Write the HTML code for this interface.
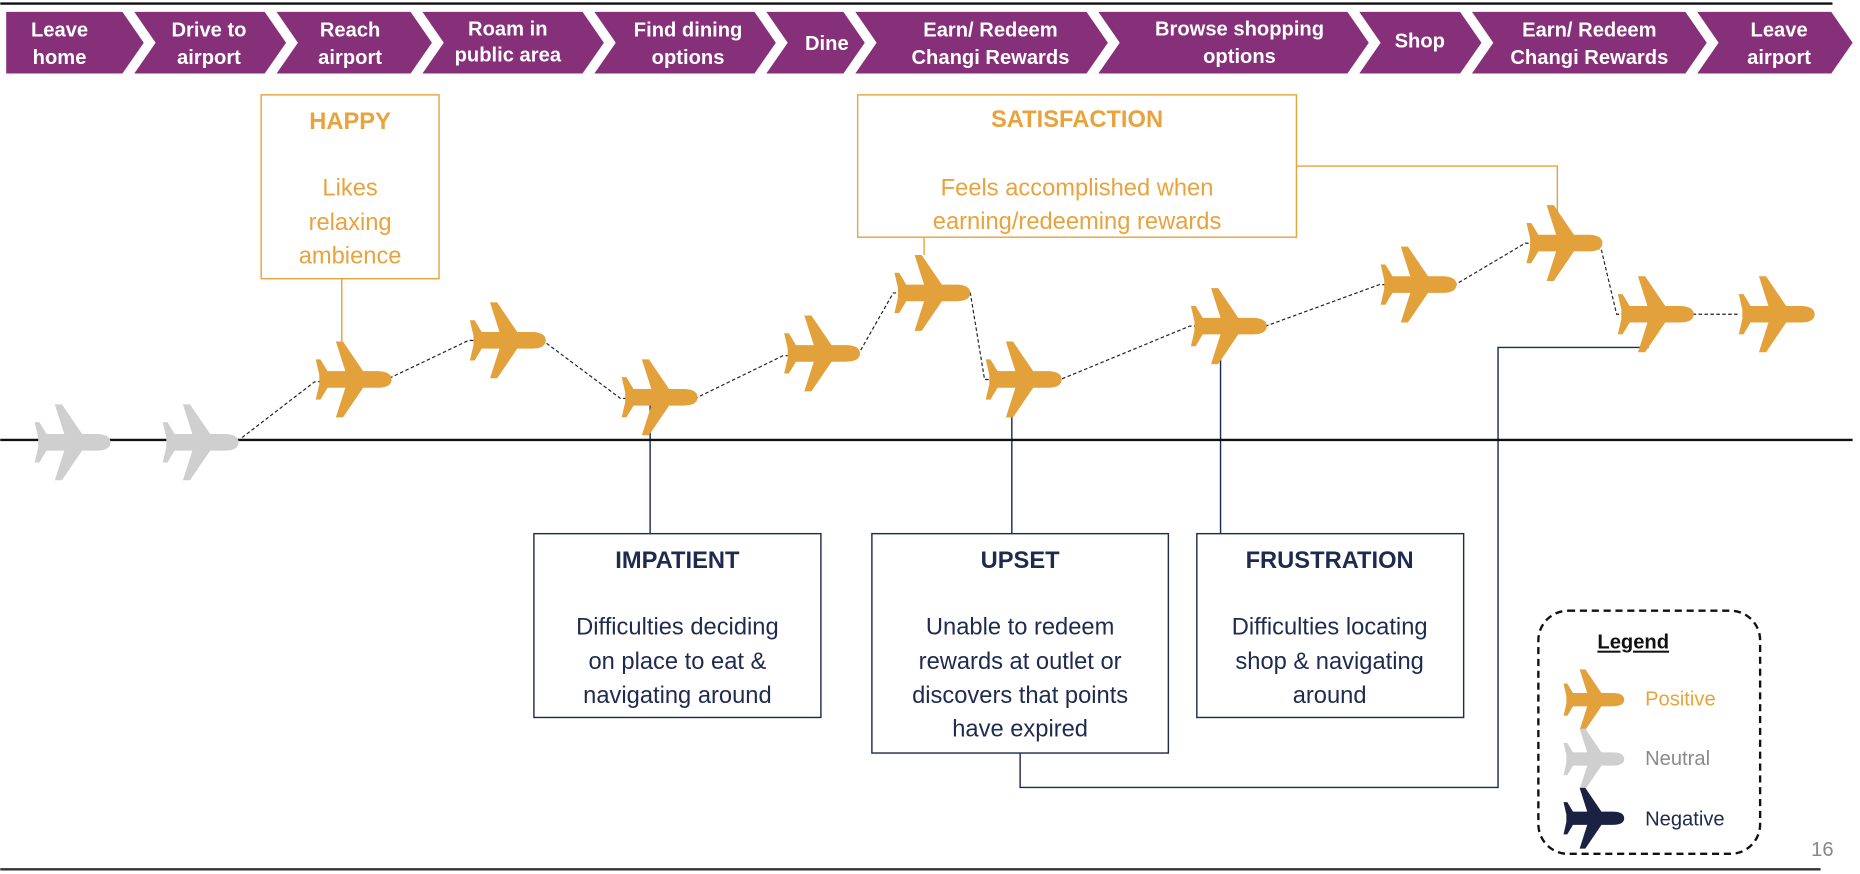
<!DOCTYPE html>
<html><head><meta charset="utf-8"><style>
html,body{margin:0;padding:0;background:#fff;}
svg{display:block}
text{font-family:"Liberation Sans",sans-serif;}
</style></head><body>
<svg width="1860" height="874" viewBox="0 0 1568 737" xmlns="http://www.w3.org/2000/svg">
<defs>
<path id="pl" d="M33,0 C33,-5 28,-7 21,-7 L9,-7 L-8,-32 L-14,-32 L-6,-7 L-21,-7 L-27,-17 L-31,-17 L-28,-4 L-28,4 L-31,17 L-27,17 L-21,7 L-6,7 L-14,32 L-8,32 L9,7 L21,7 C28,7 33,5 33,0 Z"/>
</defs>
<line x1="0" y1="3" x2="1545" y2="3" stroke="#111" stroke-width="2"/>
<g fill="#86307A">
<polygon points="5,10 103,10 121,36 103,62 5,62"/>
<polygon points="113,10 223,10 241,36 223,62 113,62 131,36"/>
<polygon points="233,10 346,10 364,36 346,62 233,62 251,36"/>
<polygon points="356,10 491,10 509,36 491,62 356,62 374,36"/>
<polygon points="501,10 636,10 654,36 636,62 501,62 519,36"/>
<polygon points="646,10 711,10 729,36 711,62 646,62 664,36"/>
<polygon points="721,10 916,10 934,36 916,62 721,62 739,36"/>
<polygon points="926,10 1136,10 1154,36 1136,62 926,62 944,36"/>
<polygon points="1146,10 1231,10 1249,36 1231,62 1146,62 1164,36"/>
<polygon points="1241,10 1421,10 1439,36 1421,62 1241,62 1259,36"/>
<polygon points="1431,10 1544,10 1562,36 1544,62 1431,62 1449,36"/>
</g>
<g fill="#fff" font-weight="bold" font-size="17" text-anchor="middle">
<text x="50" y="31">Leave</text><text x="50" y="54">home</text>
<text x="176" y="31">Drive  to</text><text x="176" y="54">airport</text>
<text x="295" y="31">Reach</text><text x="295" y="54">airport</text>
<text x="428" y="30">Roam in</text><text x="428" y="52">public area</text>
<text x="580" y="31">Find dining</text><text x="580" y="54">options</text>
<text x="697" y="42">Dine</text>
<text x="835" y="31">Earn/ Redeem</text><text x="835" y="54">Changi Rewards</text>
<text x="1045" y="30">Browse shopping</text><text x="1045" y="53">options</text>
<text x="1197" y="40">Shop</text>
<text x="1340" y="31">Earn/ Redeem</text><text x="1340" y="54">Changi Rewards</text>
<text x="1500" y="31">Leave</text><text x="1500" y="54">airport</text>
</g>
<g fill="none" stroke="#E8A33D" stroke-width="1.2">
<rect x="220" y="80" width="150" height="155"/>
<line x1="288" y1="235" x2="288" y2="292"/>
<rect x="723" y="80" width="370" height="120"/>
<line x1="779" y1="200" x2="779" y2="215"/>
<polyline points="1093,140 1313,140 1313,180"/>
</g>
<g fill="none" stroke="#1F2A4F" stroke-width="1.2">
<line x1="548" y1="340" x2="548" y2="450"/>
<line x1="853" y1="345" x2="853" y2="450"/>
<line x1="1029" y1="300" x2="1029" y2="450"/>
<polyline points="860,635 860,664 1263,664 1263,293 1390,293"/>
<rect x="450" y="450" width="242" height="155"/>
<rect x="735" y="450" width="250" height="185"/>
<rect x="1009" y="450" width="225" height="155"/>
</g>
<line x1="0" y1="371" x2="1562" y2="371" stroke="#111" stroke-width="2"/>
<line x1="0" y1="733" x2="1535" y2="733" stroke="#333" stroke-width="2"/>
<polyline fill="none" stroke="#222" stroke-width="1" stroke-dasharray="3,2" points="200,372 265,322 330,318 395,287 460,289 523,336 588,335 660,300 724,298 753,247 818,247 830,320 894,320 1003,275 1067,275 1163,240 1227,240 1286,205 1350,210 1363,265 1427,265 1465,265"/>
<g fill="#E3A13C">
<use href="#pl" x="297" y="320"/><use href="#pl" x="427" y="287"/><use href="#pl" x="555" y="335"/>
<use href="#pl" x="692" y="298"/><use href="#pl" x="785" y="247"/><use href="#pl" x="862" y="320"/>
<use href="#pl" x="1035" y="275"/><use href="#pl" x="1195" y="240"/><use href="#pl" x="1318" y="205"/>
<use href="#pl" x="1395" y="265"/><use href="#pl" x="1497" y="265"/>
</g>
<g fill="#CFCFCF"><use href="#pl" x="60" y="373"/><use href="#pl" x="168" y="373"/></g>
<g fill="#E8A33D" font-size="20" text-anchor="middle">
<text x="295" y="109" font-weight="bold">HAPPY</text>
<text x="295" y="165">Likes</text><text x="295" y="194">relaxing</text><text x="295" y="222">ambience</text>
<text x="908" y="107" font-weight="bold">SATISFACTION</text>
<text x="908" y="165">Feels accomplished when</text><text x="908" y="193">earning/redeeming rewards</text>
</g>
<g fill="#1F2A4F" font-size="20" text-anchor="middle">
<text x="571" y="479" font-weight="bold">IMPATIENT</text>
<text x="571" y="535">Difficulties deciding</text><text x="571" y="564">on place to eat &amp;</text><text x="571" y="593">navigating around</text>
<text x="860" y="479" font-weight="bold">UPSET</text>
<text x="860" y="535">Unable to redeem</text><text x="860" y="564">rewards at outlet or</text><text x="860" y="593">discovers that points</text><text x="860" y="621">have expired</text>
<text x="1121" y="479" font-weight="bold">FRUSTRATION</text>
<text x="1121" y="535">Difficulties locating</text><text x="1121" y="564">shop &amp; navigating</text><text x="1121" y="593">around</text>
</g>
<rect x="1297" y="515" width="187" height="205" rx="25" fill="none" stroke="#111" stroke-width="2" stroke-dasharray="6,4"/>
<text x="1377" y="547" font-size="17" font-weight="bold" fill="#111" text-anchor="middle" text-decoration="underline">Legend</text>
<g transform="translate(1343,590) scale(0.8)" fill="#E3A13C"><use href="#pl"/></g>
<g transform="translate(1343,640) scale(0.8)" fill="#CFCFCF"><use href="#pl"/></g>
<g transform="translate(1343,690) scale(0.8)" fill="#1A2142"><use href="#pl"/></g>
<text x="1387" y="595" font-size="17" fill="#E8A33D">Positive</text>
<text x="1387" y="645" font-size="17" fill="#8a8a8a">Neutral</text>
<text x="1387" y="696" font-size="17" fill="#1F2A4F">Negative</text>
<text x="1527" y="722" font-size="17" fill="#888">16</text>
</svg>
</body></html>
